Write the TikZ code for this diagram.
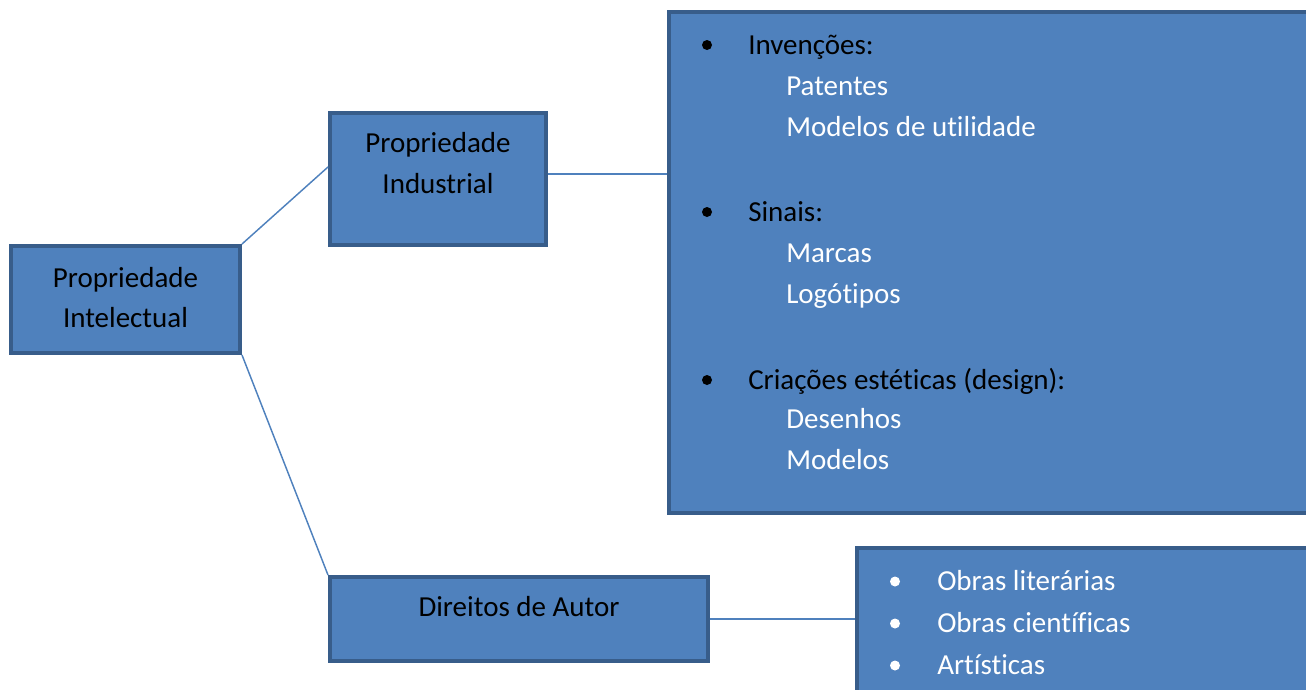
\documentclass[tikz,border=0pt]{standalone}
\usepackage{fontspec}
\setmainfont{Carlito}[Ligatures=NoCommon]
\definecolor{boxfill}{HTML}{4F81BD}
\definecolor{boxline}{HTML}{385D8A}
\tikzset{every picture/.style={/utils/exec={\fontsize{21.75}{30.75}\selectfont}}}
\tikzset{box/.style={draw=boxline,fill=boxfill,line width=3pt,rectangle,inner sep=0pt}}
\tikzset{link/.style={draw=boxfill,line width=1.1pt}}
\tikzset{item/.style={anchor=base west,inner sep=0pt}}
\tikzset{title/.style={anchor=base,inner sep=0pt,align=center}}
\tikzset{bullet/.style={fill,circle,inner sep=0pt,minimum size=7.5pt}}

\begin{document}
\begin{tikzpicture}[x=0.75pt,y=-0.75pt]
    \useasboundingbox (0,0) rectangle (1306,689);
    \clip (0,0) rectangle (1306,689);
    % boxes
    \node [box,minimum width=171.75pt,minimum height=80.25pt] (intel) at (125.5,299.5) {};
    \node [box,minimum width=162pt,minimum height=99pt] (indus) at (438,179) {};
    \node [box,minimum width=283.5pt,minimum height=63pt] (autor) at (519,619) {};
    \node [box,minimum width=510pt,minimum height=375.75pt] (listind) at (1009,262.5) {};
    \node [box,minimum width=370pt,minimum height=140pt] (listaut) at (1104,641) {};
    % connectors
    \draw [link] (intel.north east) -- ([yshift=9pt]indus.west);
    \draw [link] (intel.south east) -- (autor.north west);
    \draw [link] ([yshift=3.75pt]indus.east) coordinate (ie) -- (ie -| listind.west);
    \draw [link] (autor.east) -- (autor.east -| listaut.west);
    % titles
    \node [title] (tintel) at (125.5,287) {Propriedade};
    \node [title] (tintel2) at (125.5,327) {Intelectual};
    \node [title] (tindus) at (438,152) {Propriedade};
    \node [title] (tindus2) at (438,193) {Industrial};
    \node [title] (tautor) at (519,616) {Direitos de Autor};
    % industrial property list
    \foreach \y/\t [count=\i] in {54/{Invenções:},221/{Sinais:},389/{Criações estéticas (design):}} {
        \node [bullet] (b\i) at (707,\y-9) {};
        \node [item] (h\i) at (748,\y) {\t};
    }
    \foreach \y/\t [count=\i] in {95/Patentes,136/Modelos de utilidade,262/Marcas,303/Logótipos,428/Desenhos,469/Modelos} {
        \node [item,white] (s\i) at (786,\y) {\t};
    }
    % copyright list
    \foreach \y/\t [count=\i] in {590/Obras literárias,632/Obras científicas,674/Artísticas} {
        \node [bullet,white] (c\i) at (895,\y-8.5) {};
        \node [item,white] (o\i) at (937,\y) {\t};
    }
\end{tikzpicture}
\end{document}
